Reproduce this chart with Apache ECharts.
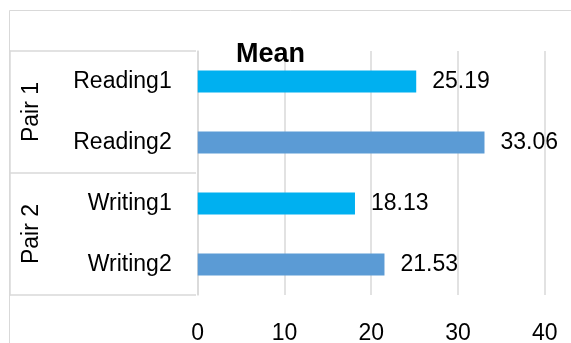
<!DOCTYPE html>
<html>
<head>
<meta charset="utf-8">
<script src="https://cdn.jsdelivr.net/npm/echarts@6/dist/echarts.min.js"></script>
<style>html,body{margin:0;padding:0;background:#fff;}#c{width:571px;height:343px;}</style>
</head>
<body>
<div id="c"></div>
<script>
var categories = ['Reading1', 'Reading2', 'Writing1', 'Writing2'];
var groups = ['Pair 1', 'Pair 2'];
var values = [25.19, 33.06, 18.13, 21.53];
var xTicks = [0, 10, 20, 30, 40];
var colors = ['#00B0F0', '#5B9BD5', '#00B0F0', '#5B9BD5'];

var FONT = 'Liberation Sans';
var chart = echarts.init(document.getElementById('c'));
chart.setOption({
  animation: false,
  backgroundColor: '#fff',
  title: {
    text: 'Mean', left: 231, top: 36,
    textStyle: { fontFamily: FONT, fontSize: 27, fontWeight: 'bold', color: '#000' }
  },
  graphic: [{
    type: 'rect', silent: true, z: -1,
    shape: { x: 9.5, y: 10.5, width: 600, height: 400 },
    style: { fill: 'none', stroke: '#d9d9d9', lineWidth: 1 }
  }],
  grid: { left: 197.7, right: 26.3, top: 51, bottom: 48, containLabel: false, outerBoundsMode: 'none' },
  xAxis: {
    type: 'value', min: xTicks[0], max: xTicks[xTicks.length - 1], interval: 10,
    axisLine: { show: false }, axisTick: { show: false },
    splitLine: { show: true, lineStyle: { color: '#d9d9d9', width: 1.5 } },
    axisLabel: { fontFamily: FONT, fontSize: 23, color: '#000', margin: 27 }
  },
  yAxis: [{
    type: 'category', data: categories, inverse: true,
    axisLine: { show: true, lineStyle: { color: '#d9d9d9', width: 1.5 } },
    axisTick: { show: false },
    axisLabel: { fontFamily: FONT, fontSize: 23, color: '#000', margin: 26 }
  }, {
    type: 'category', data: groups, inverse: true, position: 'left', offset: 187.7,
    axisLine: { show: true, lineStyle: { color: '#d9d9d9', width: 1.5 } },
    axisTick: { show: true, inside: true, length: 186, interval: 0, lineStyle: { color: '#d9d9d9', width: 1.5 } },
    axisLabel: { inside: true, rotate: 90, fontFamily: FONT, fontSize: 23, color: '#000', margin: 10 }
  }],
  series: [{
    type: 'bar', yAxisIndex: 0, barWidth: 22,
    data: values.map(function (v, i) { return { value: v, itemStyle: { color: colors[i] } }; }),
    label: {
      show: true, position: 'right', distance: 16,
      fontFamily: FONT, fontSize: 23, color: '#000',
      formatter: function (p) { return p.value.toFixed(2); }
    }
  }]
});
</script>
</body>
</html>
